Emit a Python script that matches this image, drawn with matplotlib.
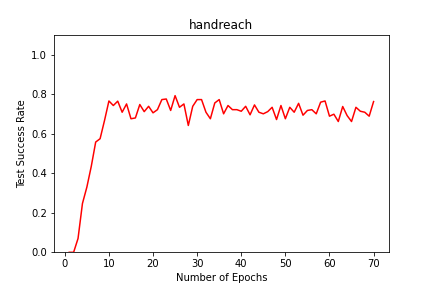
import numpy as np
import matplotlib.pyplot as plt

# Test success rate per epoch
epochs = np.arange(1, 71)
success = [0.0, 0.0, 0.07, 0.247, 0.33, 0.435, 0.558, 0.575, 0.667, 0.766,
           0.743, 0.765, 0.709, 0.751, 0.676, 0.68, 0.748, 0.712, 0.739, 0.706,
           0.722, 0.773, 0.776, 0.718, 0.793, 0.734, 0.751, 0.642, 0.739, 0.773,
           0.773, 0.709, 0.676, 0.756, 0.773, 0.701, 0.743, 0.722, 0.722, 0.714,
           0.739, 0.696, 0.746, 0.709, 0.701, 0.712, 0.734, 0.672, 0.743, 0.676,
           0.734, 0.709, 0.754, 0.694, 0.718, 0.722, 0.701, 0.760, 0.766, 0.689,
           0.699, 0.662, 0.738, 0.692, 0.662, 0.734, 0.714, 0.709, 0.689, 0.763]

fig = plt.figure(figsize=(6, 4), dpi=72)
ax = fig.add_axes([0.125, 0.124, 0.775, 0.7545])

ax.plot(epochs, success, color='red')

ax.set_ylim(0, 1.1)
ax.set_title('handreach')
ax.set_xlabel('Number of Epochs')
ax.set_ylabel('Test Success Rate')

plt.savefig('out.png', dpi=72)
